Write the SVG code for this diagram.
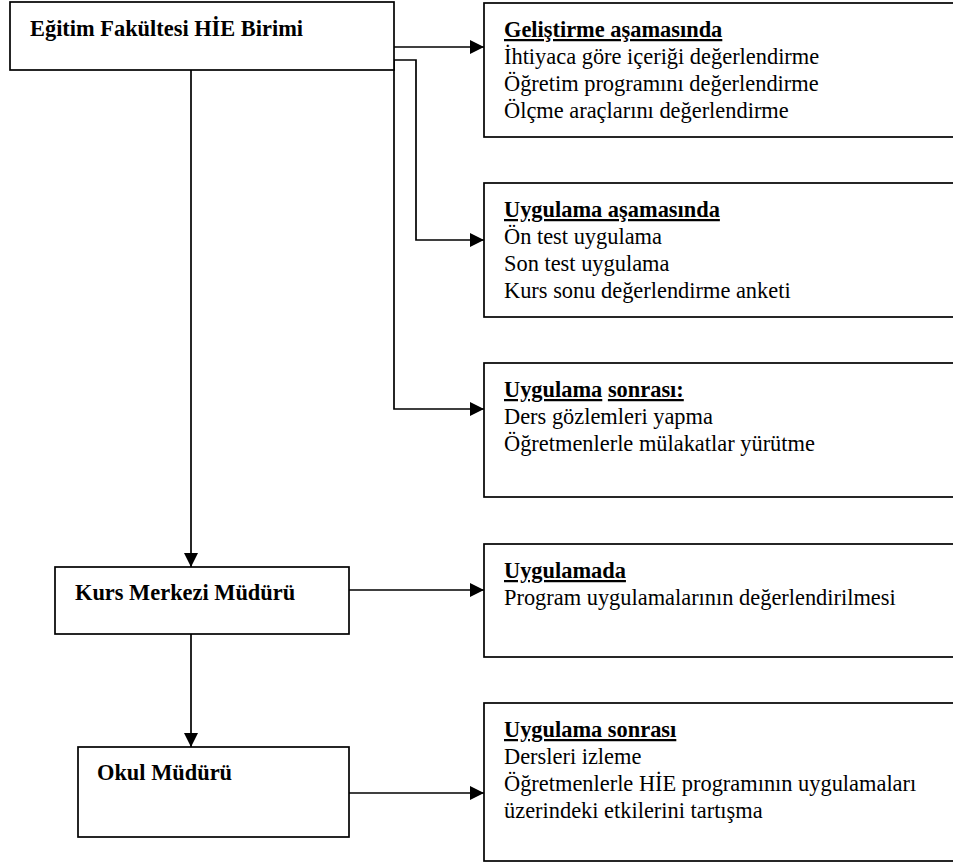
<svg xmlns="http://www.w3.org/2000/svg" width="953" height="863" viewBox="0 0 953 863">
<style>
.box{fill:#fff;stroke:#000;stroke-width:1.7}
.t{font-family:"Liberation Serif","Times New Roman",serif;font-size:22.4px;fill:#000}
.b{font-weight:bold}
.u{text-decoration:underline}
.c{fill:none;stroke:#000;stroke-width:1.7}
</style>
<defs>
<marker id="ah" viewBox="0 0 14 14" refX="14" refY="7" markerWidth="14" markerHeight="14" markerUnits="userSpaceOnUse" orient="auto">
<path d="M0,0 L14,7 L0,14 Z" fill="#000"/>
</marker>
</defs>
<g id="connectors">
<line class="c" x1="394" y1="47" x2="484" y2="47" marker-end="url(#ah)"/>
<polyline class="c" points="394,60 416,60 416,240 484,240" marker-end="url(#ah)"/>
<polyline class="c" points="394,60 394,409 484,409" marker-end="url(#ah)"/>
<line class="c" x1="191" y1="70" x2="191" y2="567" marker-end="url(#ah)"/>
<line class="c" x1="191" y1="634" x2="191" y2="747" marker-end="url(#ah)"/>
<line class="c" x1="349" y1="590" x2="484" y2="590" marker-end="url(#ah)"/>
<line class="c" x1="349" y1="793" x2="484" y2="793" marker-end="url(#ah)"/>
</g>
<g id="egitim">
<rect class="box" x="10" y="2" width="384" height="68"/>
<text class="t b" x="30" y="36">Eğitim Fakültesi HİE Birimi</text>
</g>
<g id="kurs">
<rect class="box" x="55" y="567" width="294" height="67"/>
<text class="t b" x="75" y="600">Kurs Merkezi Müdürü</text>
</g>
<g id="okul">
<rect class="box" x="78" y="747" width="271" height="90"/>
<text class="t b" x="97" y="780">Okul Müdürü</text>
</g>
<g id="gelistirme">
<rect class="box" x="484" y="3" width="480" height="134"/>
<text class="t" x="504" y="37"><tspan class="b u">Geliştirme aşamasında</tspan></text>
<text class="t" x="504" y="64">İhtiyaca göre içeriği değerlendirme</text>
<text class="t" x="504" y="91">Öğretim programını değerlendirme</text>
<text class="t" x="504" y="118">Ölçme araçlarını değerlendirme</text>
</g>
<g id="uygulama-asamasinda">
<rect class="box" x="484" y="183" width="480" height="134"/>
<text class="t" x="504" y="217"><tspan class="b u">Uygulama aşamasında</tspan></text>
<text class="t" x="504" y="244">Ön test uygulama</text>
<text class="t" x="504" y="271">Son test uygulama</text>
<text class="t" x="504" y="298">Kurs sonu değerlendirme anketi</text>
</g>
<g id="uygulama-sonrasi-1">
<rect class="box" x="484" y="363" width="480" height="134"/>
<text class="t" x="504" y="397"><tspan class="b u">Uygulama</tspan><tspan class="b"> </tspan><tspan class="b u">sonrası:</tspan></text>
<text class="t" x="504" y="424">Ders gözlemleri yapma</text>
<text class="t" x="504" y="451">Öğretmenlerle mülakatlar yürütme</text>
</g>
<g id="uygulamada">
<rect class="box" x="484" y="544" width="480" height="113"/>
<text class="t" x="504" y="578"><tspan class="b u">Uygulamada</tspan></text>
<text class="t" x="504" y="605">Program uygulamalarının değerlendirilmesi</text>
</g>
<g id="uygulama-sonrasi-2">
<rect class="box" x="484" y="703" width="480" height="158"/>
<text class="t" x="504" y="737"><tspan class="b u">Uygulama sonrası</tspan></text>
<text class="t" x="504" y="764">Dersleri izleme</text>
<text class="t" x="504" y="791">Öğretmenlerle HİE programının uygulamaları</text>
<text class="t" x="504" y="818">üzerindeki etkilerini tartışma</text>
</g>
</svg>
